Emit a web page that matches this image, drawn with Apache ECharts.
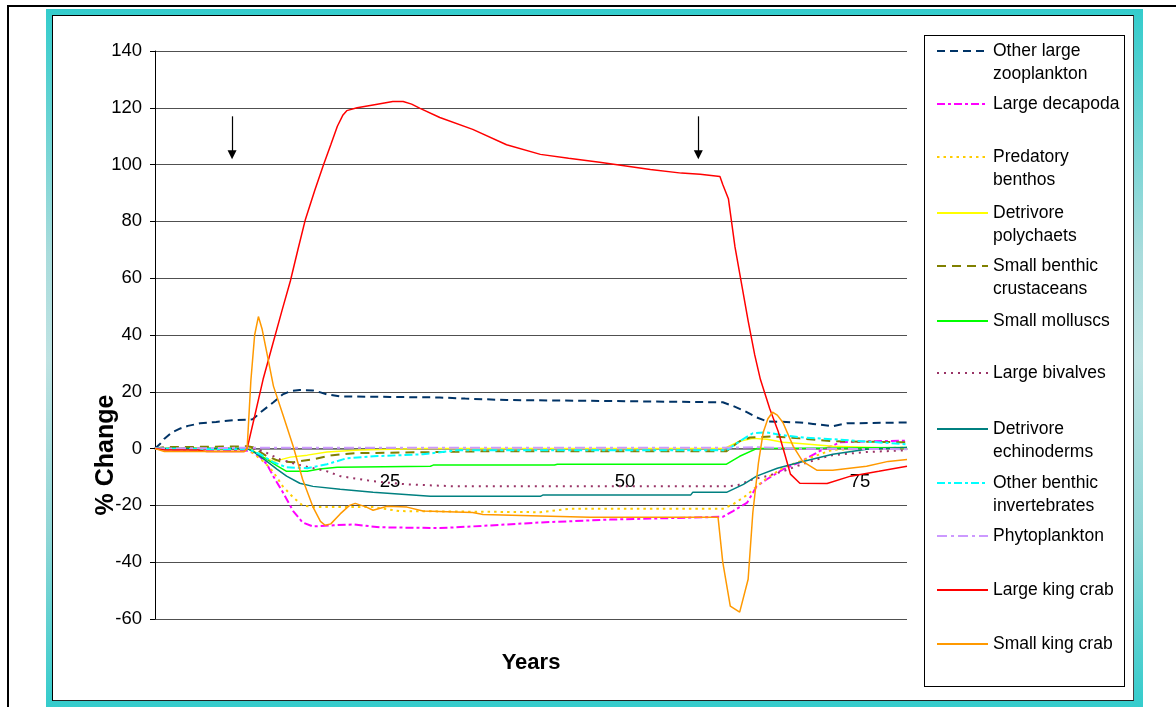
<!DOCTYPE html>
<html>
<head>
<meta charset="utf-8">
<script src="https://cdn.jsdelivr.net/npm/echarts@6.0.0/dist/echarts.min.js"></script>
<style>
  html, body { margin: 0; padding: 0; background: #fff; width: 1176px; height: 707px; overflow: hidden; }
  #outer { position: absolute; left: 7px; top: 5px; width: 1200px; height: 720px; border-top: 2px solid #000; border-left: 2px solid #000; }
  #teal { position: absolute; left: 46px; top: 9px; width: 1097px; height: 700px;
          background: linear-gradient(180deg, #33cccc 0%, #a9dcdc 35%, #bfe3e3 50%, #8fd6d6 75%, #33cccc 100%); }
  #inner { position: absolute; left: 52px; top: 15px; width: 1082px; height: 686px; box-sizing: border-box;
           background: #fff; border: 1px solid #000; border-right-color: #444; border-bottom-color: #222; }
  #legendBox { position: absolute; left: 924px; top: 35px; width: 201px; height: 652px; box-sizing: border-box;
               background: #fff; border: 1px solid #000; }
  #chart { position: absolute; left: 0; top: 0; width: 1176px; height: 707px; }
</style>
</head>
<body>
<div id="outer"></div>
<div id="teal"></div>
<div id="inner"></div>
<div id="legendBox"></div>
<div id="chart"></div>
<script>
// ---------------- DATA ----------------
const seriesNames = [
  'Other large\nzooplankton', 'Large decapoda', 'Predatory\nbenthos', 'Detrivore\npolychaets',
  'Small benthic\ncrustaceans', 'Small molluscs', 'Large bivalves', 'Detrivore\nechinoderms',
  'Other benthic\ninvertebrates', 'Phytoplankton', 'Large king crab', 'Small king crab'
];
const xTickLabels = [25, 50, 75];
const yTickValues = [-60, -40, -20, 0, 20, 40, 60, 80, 100, 120, 140];

// [year, % change]
const otherLargeZooplankton = [[0,0],[0.5,1.5],[1,3.5],[1.8,5.7],[2.7,7.1],[3.5,8],[4.8,8.9],[6.5,9.4],[8.3,10],[10.4,10.3],[11.2,12.7],[12.6,16.3],[13.6,19.1],[14.5,20.3],[15.4,20.6],[16.8,20.5],[17.6,19.8],[18.3,19.1],[19.7,18.4],[25,18.2],[30.3,18],[33,17.6],[37.4,17.1],[47.3,16.8],[60.4,16.3],[61.5,15],[62.8,13.1],[64,11],[65.1,9.6],[68.6,9.2],[70,8.7],[72.1,7.9],[73.6,8.9],[80,9.2]];
const largeDecapoda = [[0,0],[2,-0.3],[9.5,-0.5],[10.5,-1.5],[11.2,-3],[11.9,-5.5],[12.6,-9.8],[13.6,-15.4],[14.7,-22],[15.7,-26],[16.8,-27.4],[19,-27],[21.1,-26.7],[23.9,-27.7],[30.3,-28],[33.8,-27.4],[41,-26],[48.4,-25],[60.4,-24],[61.5,-22],[63,-19],[64,-13.3],[65.1,-10.8],[66.8,-7.3],[68.6,-4.8],[70.7,-0.9],[72.9,2.2],[76,2.6],[80,2.8]];
const predatoryBenthos = [[0,0],[9.8,0],[10.8,-2.6],[11.7,-5],[12.6,-8.3],[13.6,-13.3],[14.7,-17.2],[15.7,-20],[16.8,-20.6],[23.2,-20.6],[26,-22],[41,-22.4],[44,-21.2],[60.4,-21.2],[61.5,-19.6],[63,-16.3],[64,-13.3],[65.1,-10.4],[66.8,-6.8],[68.6,-4.5],[72.1,-0.4],[80,0.4]];
const detrivorePolychaets = [[0,0],[10.1,0],[11.5,-3],[12.6,-4.5],[13.5,-3.8],[14.4,-3],[16.2,-2.3],[18.3,-1.2],[21.8,-0.5],[28.5,0],[60.4,0],[60.8,0.4],[62.2,2.6],[63.6,3.6],[65.1,3.3],[66.8,2.2],[68.6,1.8],[72.1,0.8],[80,0]];
const smallBenthicCrustaceans = [[0,0],[1,0.5],[9.8,0.8],[10.4,0.5],[11.9,-2.7],[13.3,-4.5],[14.7,-4.8],[16.8,-3.8],[18.9,-2.3],[21.5,-1.6],[30.3,-1.2],[36,-0.9],[60.8,-0.9],[62.2,2.6],[63.3,3.9],[65.7,4.3],[68.6,3.6],[72.1,2.6],[80,2.2]];
const smallMolluscs = [[0,0],[9.8,0],[10.4,-0.9],[11.9,-3.8],[13,-6.1],[14,-8],[16.2,-8],[17.5,-7.2],[19.4,-6.6],[29.3,-6.2],[29.6,-5.8],[42.5,-5.8],[42.8,-5.5],[60.8,-5.5],[62.2,-2.7],[64,0],[80,0.4]];
const largeBivalves = [[0,0],[10.5,0],[11.5,-0.9],[13.3,-3.8],[15.4,-5.8],[18.3,-8],[19.7,-9.7],[23.2,-11.5],[26.8,-12.6],[32.1,-13.3],[60.8,-13.3],[62,-12.9],[63.6,-10.8],[65.1,-9.7],[66.8,-8],[68.6,-5.8],[70.4,-3.8],[72.1,-2.3],[75.7,-1.2],[80,-0.6]];
const detrivoreEchinoderms = [[0,0],[9.8,0],[10.4,-0.9],[11.9,-4.5],[13,-7.3],[14,-9.7],[15.4,-12.2],[16.8,-13.3],[19.7,-14.3],[23.2,-15.4],[29.3,-16.8],[41,-16.8],[41.3,-16.3],[57,-16.3],[57.2,-15.4],[60.8,-15.4],[62.6,-12.6],[64,-9.7],[66.2,-6.9],[68.6,-4.8],[72.1,-2],[75.7,-0.2],[80,0.4]];
const otherBenthicInvertebrates = [[0,0],[10,-0.3],[11.2,-2],[12.6,-4.8],[14,-6.6],[16.2,-6.9],[18.3,-5.5],[20.4,-3.4],[23.2,-2.7],[28.5,-2],[32.1,-0.6],[60.8,-0.6],[62.2,2.6],[63.6,5.4],[65.1,5.7],[66.8,4.7],[68.6,4],[72.1,3.3],[80,1.5]];
const phytoplankton = [[0,0],[10,0.3],[60,0.3],[64,0.5],[68,0],[80,-0.2]];
const largeKingCrab = [[0,0],[1,-0.5],[4.5,-0.5],[5.5,-1],[9.5,-1],[9.8,0],[10.6,11.4],[11.5,24.4],[12.5,36.5],[13.5,48.5],[14.4,59],[15.2,70],[16,80.7],[17,91],[17.9,99.7],[18.7,107],[19.4,113.5],[20,117.5],[20.4,119],[21.5,120],[23.2,121],[25.3,122.2],[26.4,122.2],[27.3,121.3],[28.2,119.8],[30.3,116.6],[33.8,112.4],[37.4,107],[41,103.6],[44,102.2],[47.3,100.8],[52.7,98.3],[56,97],[58,96.6],[60.1,95.8],[60.4,93],[61,88],[61.7,71],[62.4,58],[63.1,45],[63.8,33],[64.4,24.4],[65.4,14],[66.3,6],[67,-2],[67.6,-9],[68.6,-12.2],[71.5,-12.3],[74,-9.7],[77,-8],[80,-6.2]];
const smallKingCrab = [[0,0],[1,-1],[9.5,-1],[9.8,0],[10.2,24],[10.6,40],[11,46.5],[11.4,42],[12,32],[12.6,22],[13.6,12],[14.7,0.8],[15.7,-10.8],[16.8,-20.5],[17.6,-25.6],[18.1,-27],[18.7,-26.5],[19.7,-23],[20.7,-20],[21.3,-19.3],[22.5,-20.6],[23.2,-21.7],[24.7,-20.3],[26.8,-20.6],[28.5,-22],[33.8,-22.5],[34.9,-23.2],[41,-23.7],[46.3,-24.2],[59.9,-24.2],[60.4,-40],[61.2,-55.5],[62.2,-57.6],[63.1,-46],[63.6,-22.5],[64.2,-4.9],[64.7,5.7],[65.2,10.5],[65.7,12.8],[66.2,11.8],[66.8,9.2],[67.9,0.8],[68.9,-4.5],[70.4,-7.6],[72.1,-7.6],[75.7,-6.2],[78,-4.5],[80,-3.8]];

// arrows marking the change points: [year, start value, tip value]
const arrowMarks = [[8.2, 117, 103.5], [57.8, 117, 103.5]];

const seriesData = [otherLargeZooplankton, largeDecapoda, predatoryBenthos, detrivorePolychaets,
  smallBenthicCrustaceans, smallMolluscs, largeBivalves, detrivoreEchinoderms,
  otherBenthicInvertebrates, phytoplankton, largeKingCrab, smallKingCrab];

// ---------------- STYLE ----------------
const styles = [
  { color: '#003366', width: 2,   dash: [8, 5] },
  { color: '#ff00ff', width: 2,   dash: [8, 3, 3, 3] },
  { color: '#ffcc00', width: 2,   dash: [2.5, 4] },
  { color: '#ffff00', width: 1.5, dash: 'solid' },
  { color: '#808000', width: 2,   dash: [9, 6] },
  { color: '#00ff00', width: 1.5, dash: 'solid' },
  { color: '#993366', width: 2,   dash: [2, 5] },
  { color: '#008080', width: 1.5, dash: 'solid' },
  { color: '#00ffff', width: 2,   dash: [8, 3, 3, 3] },
  { color: '#cc99ff', width: 2,   dash: [10, 4, 3, 4] },
  { color: '#ff0000', width: 1.5, dash: 'solid' },
  { color: '#ff9900', width: 1.5, dash: 'solid' }
];
const FONT = "'Liberation Sans', Arial, sans-serif";
const legendCenters = [51, 104, 157, 213, 266, 321, 373, 429, 483, 536, 590, 644];
const LH = 23;
const GRID = { left: 155, top: 51, width: 752, height: 568 };

const series = seriesNames.map((name, i) => {
  const s = {
    name: name,
    type: 'line',
    data: seriesData[i],
    symbol: 'none',
    showSymbol: false,
    animation: false,
    lineStyle: { color: styles[i].color, width: styles[i].width, type: styles[i].dash, cap: 'butt' },
    itemStyle: { color: styles[i].color },
    z: 3
  };
  if (i === 10) {
    s.markLine = {
      silent: true,
      animation: false,
      symbol: ['none', 'triangle'],
      symbolSize: 9,
      label: { show: false },
      lineStyle: { color: '#000', width: 1.2, type: 'solid' },
      emphasis: { disabled: true },
      data: arrowMarks.map(a => [{ coord: [a[0], a[1]] }, { coord: [a[0], a[2]] }])
    };
  }
  return s;
});

// each legend entry is its own legend so that the entries keep the original's even spacing;
// two-line entries get a blank leading line so that their first line sits on the sample line
const legends = seriesNames.map((name, i) => {
  const two = name.indexOf('\n') >= 0;
  return {
    data: [name],
    orient: 'vertical',
    left: 936,
    top: legendCenters[i] - (two ? 1.5 * LH : 0.5 * LH),
    padding: 0,
    itemWidth: 51,
    itemHeight: 14,
    selectedMode: false,
    itemStyle: { opacity: 0 },
    formatter: n => (two ? ' \n' + n : n),
    textStyle: { fontFamily: FONT, fontSize: 17.5, color: '#000', lineHeight: LH }
  };
});

const chart = echarts.init(document.getElementById('chart'), null, { renderer: 'canvas' });
chart.setOption({
  animation: false,
  backgroundColor: 'transparent',
  textStyle: { fontFamily: FONT },
  grid: Object.assign({ containLabel: false, outerBoundsMode: 'none' }, GRID),
  legend: legends,
  xAxis: {
    type: 'value',
    position: 'bottom',
    offset: 0,
    min: 0, max: 80, interval: 25,
    name: 'Years',
    nameLocation: 'middle',
    nameGap: 203,
    nameMoveOverlap: false,
    nameTextStyle: { fontFamily: FONT, fontSize: 22, fontWeight: 'bold', color: '#000' },
    axisLine: { onZero: false, lineStyle: { color: '#707070', width: 1.5 } },
    axisTick: { show: false },
    splitLine: { show: false },
    axisLabel: {
      margin: 24, fontFamily: FONT, fontSize: 18.5, color: '#000',
      formatter: v => (xTickLabels.indexOf(v) >= 0 ? String(v) : '')
    }
  },
  yAxis: {
    type: 'value',
    min: yTickValues[0], max: yTickValues[yTickValues.length - 1], interval: 20,
    name: '% Change',
    nameLocation: 'middle',
    nameRotate: 90,
    nameGap: 36,
    nameMoveOverlap: false,
    nameTextStyle: { fontFamily: FONT, fontSize: 25, fontWeight: 'bold', color: '#000', padding: [0, 240, 0, 0] },
    axisLine: { show: true, onZero: false, lineStyle: { color: '#000', width: 1 } },
    axisTick: { show: true, inside: false, length: 5, lineStyle: { color: '#000' } },
    splitLine: { show: true, lineStyle: { color: '#505050', width: 1 } },
    axisLabel: { margin: 13, fontFamily: FONT, fontSize: 18.5, color: '#000' }
  },
  series: series
});

// place the category (x) axis on the zero line of the value axis, as in the original
const zeroY = chart.convertToPixel({ yAxisIndex: 0 }, 0);
chart.setOption({ xAxis: { offset: zeroY - (GRID.top + GRID.height) } });
</script>
</body>
</html>
